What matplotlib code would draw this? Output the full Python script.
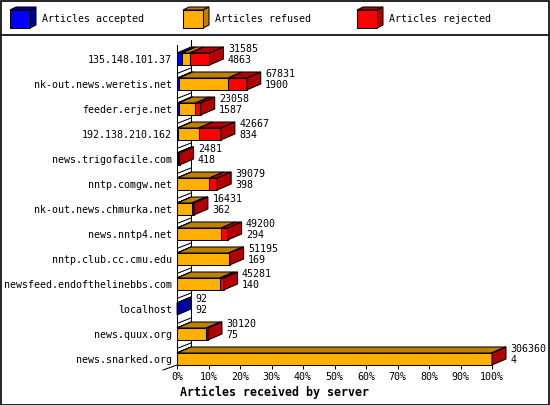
import matplotlib

matplotlib.use("Agg")

import matplotlib.pyplot as plt
from matplotlib.patches import Polygon, Rectangle

servers = [
    "135.148.101.37",
    "nk-out.news.weretis.net",
    "feeder.erje.net",
    "192.138.210.162",
    "news.trigofacile.com",
    "nntp.comgw.net",
    "nk-out.news.chmurka.net",
    "news.nntp4.net",
    "nntp.club.cc.cmu.edu",
    "newsfeed.endofthelinebbs.com",
    "localhost",
    "news.quux.org",
    "news.snarked.org",
]
totals = [31585, 67831, 23058, 42667, 2481, 39079, 16431, 49200, 51195, 45281, 92, 30120, 306360]
accepted = [4863, 1900, 1587, 834, 418, 398, 362, 294, 169, 140, 92, 75, 4]
refused = [7422, 47831, 16371, 20133, 900, 31081, 14069, 42506, 50026, 41441, 0, 28395, 306056]
rejected = [19300, 18100, 5100, 21700, 1163, 7600, 2000, 6400, 1000, 3700, 0, 1650, 300]

series_names = ["Articles accepted", "Articles refused", "Articles rejected"]
front_colors = ["#0000FF", "#FFB000", "#FF0000"]
dark_colors = ["#0000A0", "#BF8000", "#B00000"]
pct_ticks = list(range(0, 101, 10))

W, H = 550, 405
MONO = "DejaVu Sans Mono"
LW = 0.75

fig = plt.figure(figsize=(W / 100, H / 100), dpi=100)

# plot area: 0% at px 177, 100% at px 492; rows every 25 px starting at px 59
ax = fig.add_axes([177 / W, (H - 365) / H, 315 / W, 325 / H])
ax.set_xlim(0, 100)
ax.set_ylim(12.24, -0.76)
ax.patch.set_visible(False)
for sp in ax.spines.values():
    sp.set_visible(False)

dx = 14 / 315 * 100   # depth in percent
dy = 0.24             # depth in row units
h = 0.48
top, bottom = -0.76, 12.24

# back wall lines and per-row floor lines
ax.plot([dx, dx], [top, bottom - dy], color="black", lw=LW, zorder=1)
ax.plot([100 + dx, 100 + dx], [top, bottom - 0.2], color="black", lw=LW, zorder=1)
for i in range(len(servers) - 1):
    b = i + 0.5
    ax.plot([0, dx], [b + 0.08, b - 0.14], color="black", lw=LW, zorder=1)

vmax = max(totals)
for i, name in enumerate(servers):
    segs = [accepted[i], refused[i], rejected[i]]
    left = 0.0
    last = 0
    for k, v in enumerate(segs):
        w = v / vmax * 100
        if v <= 0:
            continue
        last = k
        ax.barh(i, w, left=left, height=h, color=front_colors[k],
                edgecolor="black", linewidth=LW, zorder=3)
        yt = i - h / 2
        ax.add_patch(Polygon([(left, yt), (left + w, yt), (left + w + dx, yt - dy), (left + dx, yt - dy)],
                             closed=True, facecolor=dark_colors[k], edgecolor="black",
                             linewidth=LW, zorder=3, clip_on=False))
        left += w
    yt, yb = i - h / 2, i + h / 2
    ax.add_patch(Polygon([(left, yt), (left, yb), (left + dx, yb - dy), (left + dx, yt - dy)],
                         closed=True, facecolor=dark_colors[last], edgecolor="black",
                         linewidth=LW, zorder=4, clip_on=False))
    tx = left + dx + 1.4
    ax.text(tx, i - 0.38, str(totals[i]), fontsize=7.2, family=MONO, va="center", ha="left")
    ax.text(tx, i + 0.06, str(accepted[i]), fontsize=7.2, family=MONO, va="center", ha="left")

# front axis and floor edge
ax.plot([0, 0], [-0.56, bottom], color="black", lw=LW, zorder=5, clip_on=False)
ax.plot([-dx, dx], [bottom + 0.2, bottom - 0.2], color="black", lw=LW, zorder=2, clip_on=False)

ax.set_yticks(range(len(servers)))
ax.set_yticklabels(servers, fontsize=7.2, family=MONO)
ax.tick_params(axis="y", length=0, pad=3.6)
ax.set_xticks(pct_ticks)
ax.set_xticklabels([f"{p}%" for p in pct_ticks], fontsize=7.2, family=MONO)
ax.tick_params(axis="x", length=3.2, width=LW, pad=1.5, direction="out")
ax.spines["bottom"].set_visible(True)
ax.spines["bottom"].set_linewidth(LW)

fig.text(0.5, 1 - 392 / H, "Articles received by server", ha="center", va="center",
         fontsize=8.4, family=MONO, fontweight="bold")

# header legend
hdr = fig.add_axes([0, 1 - 35 / H, 1, 35 / H])
hdr.set_xlim(0, W)
hdr.set_ylim(35, 0)
hdr.axis("off")
for x0, label, fc, dc in zip([10, 183, 357], series_names, front_colors, dark_colors):
    hdr.add_patch(Polygon([(x0, 10), (x0 + 20, 10), (x0 + 26, 7), (x0 + 6, 7)], closed=True,
                          facecolor=dc, edgecolor="black", linewidth=LW))
    hdr.add_patch(Polygon([(x0 + 20, 10), (x0 + 20, 28), (x0 + 26, 25), (x0 + 26, 7)], closed=True,
                          facecolor=dc, edgecolor="black", linewidth=LW))
    hdr.add_patch(Rectangle((x0, 10), 20, 18, facecolor=fc, edgecolor="black", linewidth=LW))
    hdr.text(x0 + 32, 19.5, label, fontsize=7.2, family=MONO, va="center", ha="left")

# image border and legend separator
fig.add_artist(Rectangle((0.5 / W, 0.5 / H), 1 - 1.5 / W, 1 - 1.5 / H, transform=fig.transFigure,
                         fill=False, edgecolor="black", linewidth=1.2))
fig.add_artist(plt.Line2D([0, 1], [1 - 35 / H, 1 - 35 / H], transform=fig.transFigure,
                          color="black", linewidth=1.2))

fig.savefig("out.png", dpi=100)
